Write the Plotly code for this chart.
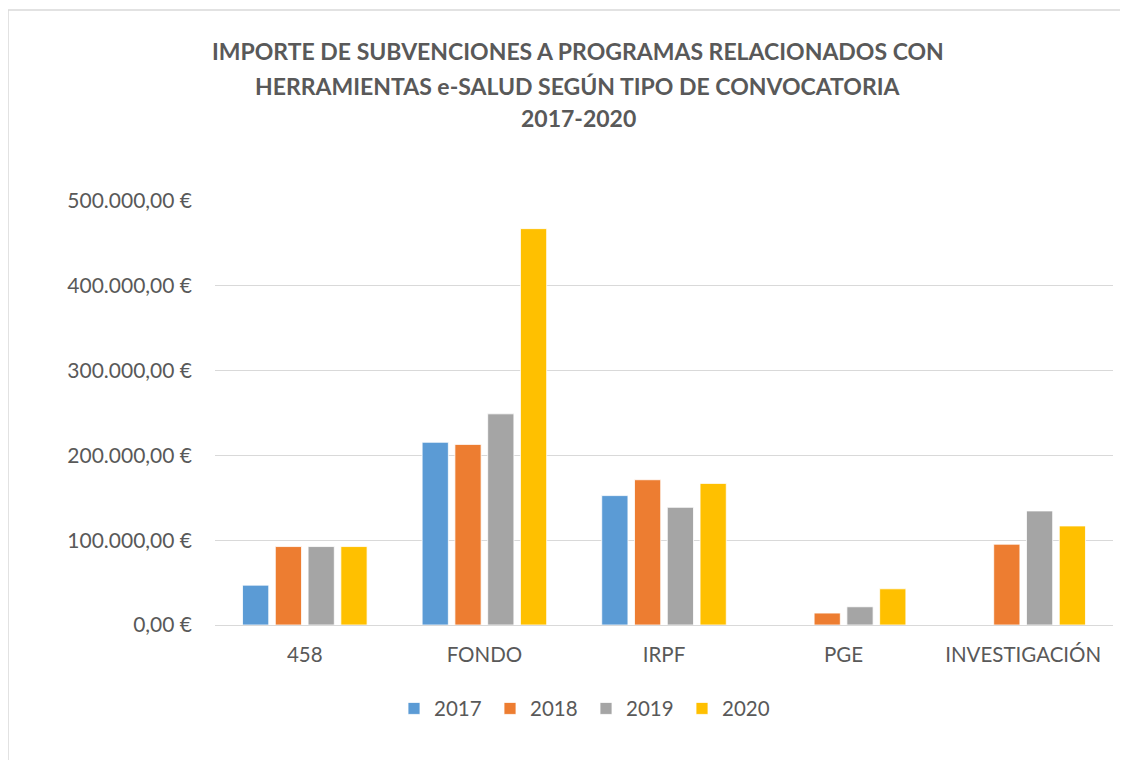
import plotly.graph_objects as go

categories = ["458", "FONDO", "IRPF", "PGE", "INVESTIGACIÓN"]
years = ["2017", "2018", "2019", "2020"]
v2017 = [47000, 215500, 152600, None, None]
v2018 = [92500, 213000, 171300, 14100, 95300]
v2019 = [92500, 249000, 138800, 21500, 134500]
v2020 = [92500, 467400, 167000, 42700, 116800]
colors = ["#5B9BD5", "#ED7D31", "#A5A5A5", "#FFC000"]
tick_vals = [0, 100000, 200000, 300000, 400000, 500000]
tick_text = ["0,00 €", "100.000,00 €", "200.000,00 €", "300.000,00 €", "400.000,00 €", "500.000,00 €"]
title_lines = [
    "IMPORTE DE SUBVENCIONES A PROGRAMAS RELACIONADOS CON",
    "HERRAMIENTAS e-SALUD SEGÚN TIPO DE CONVOCATORIA",
    "2017-2020",
]

FONT = "Lato, 'Open Sans', sans-serif"
TXT = "#595959"

fig = go.Figure()
for name, vals, col in zip(years, [v2017, v2018, v2019, v2020], colors):
    fig.add_trace(go.Bar(
        x=categories, y=vals, name=name,
        marker=dict(color=col, line=dict(color="white", width=0.8)),
    ))

# page body has an 8px margin; work in figure coordinates (reference - 8)
OFF = 8
W, H = 1128 - OFF, 760 - OFF
L, R, T, B = 215 - OFF, 15, 200.7 - OFF, H - (625.3 - OFF)
pw = W - L - R
ph = H - T - B

def px_(pix):
    return (pix - OFF - L) / pw

def py(pix):
    return (H - B - (pix - OFF)) / ph

annotations = []
for line, ypix in zip(title_lines, [50, 86, 118]):
    annotations.append(dict(
        text="<b>" + line + "</b>", x=px_(578), y=py(ypix),
        xref="paper", yref="paper", xanchor="center", yanchor="middle",
        showarrow=False, font=dict(family=FONT, size=23, color=TXT),
    ))

fig.update_layout(
    width=W, height=H,
    margin=dict(l=L, r=R, t=T, b=B, pad=0),
    paper_bgcolor="white", plot_bgcolor="white",
    barmode="group", bargap=0.27, bargroupgap=0.2,
    font=dict(family=FONT, size=20.5, color=TXT),
    annotations=annotations,
    showlegend=True,
    legend=dict(
        orientation="h", x=px_(586), xanchor="center",
        y=py(709), yanchor="middle",
        font=dict(family=FONT, size=20.5, color=TXT),
        itemwidth=30, entrywidth=51, traceorder="normal",
    ),
    xaxis=dict(showgrid=False, showline=False, ticks="", ticklabelstandoff=15,
               tickfont=dict(size=20.5, color=TXT)),
    yaxis=dict(
        range=[0, 500000], tickvals=tick_vals, ticktext=tick_text,
        showgrid=True, gridcolor="#D9D9D9", gridwidth=1,
        zeroline=True, zerolinecolor="#D9D9D9", zerolinewidth=1,
        showline=False, ticks="", ticklabelstandoff=22,
        tickfont=dict(size=21, color=TXT),
    ),
    shapes=[
        dict(type="rect", xref="paper", yref="paper",
             x0=px_(8), x1=px_(1160),
             y0=py(800), y1=py(9.5),
             line=dict(color="#D9D9D9", width=1.5), fillcolor="rgba(0,0,0,0)", layer="below"),
    ],
)

fig.write_html("out.html")
